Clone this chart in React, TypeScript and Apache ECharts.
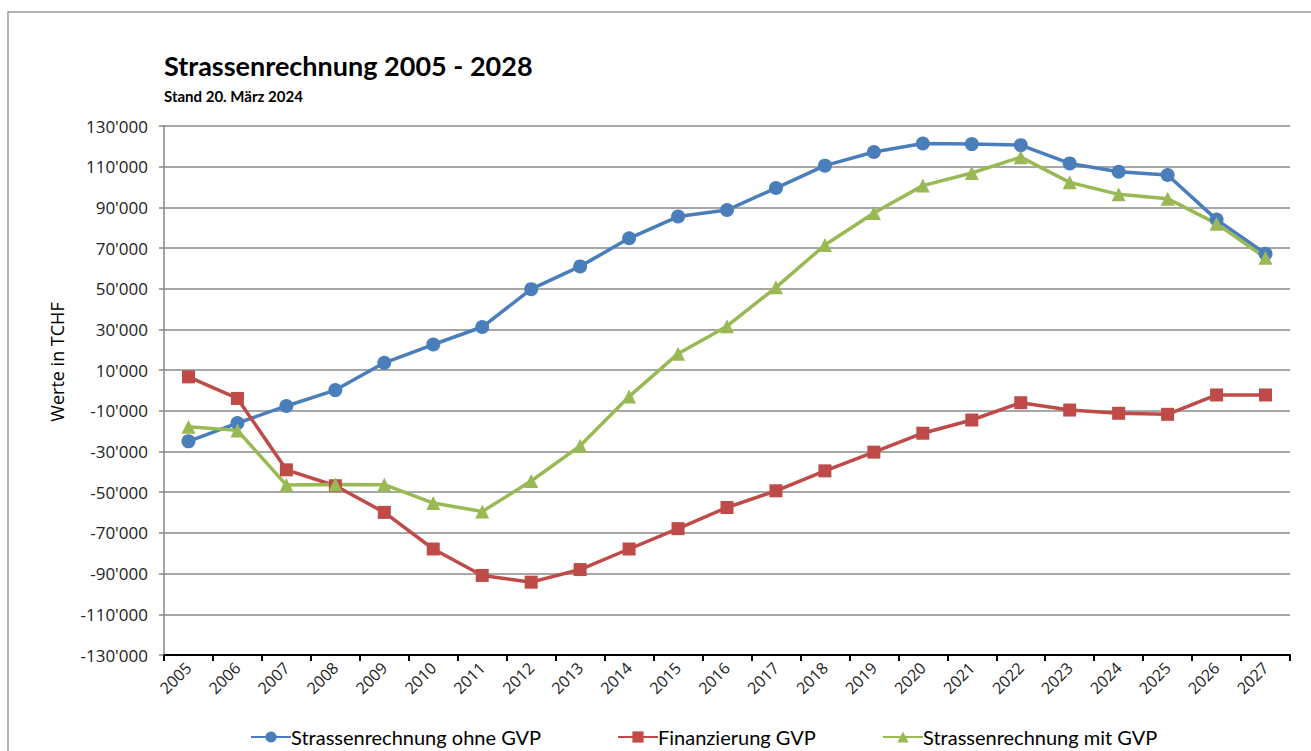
import React, { useEffect, useRef } from "react";
import * as echarts from "echarts";

const years = ["2005","2006","2007","2008","2009","2010","2011","2012","2013","2014","2015","2016","2017","2018","2019","2020","2021","2022","2023","2024","2025","2026","2027"];

const ohneGVP = [-25000,-16000,-7600,200,13600,22600,31200,49800,61000,74800,85500,88700,99500,110500,117200,121400,121100,120600,111600,107500,105900,84000,67200];
const finanzierungGVP = [6700,-3900,-39000,-46800,-59900,-77900,-90900,-94200,-88000,-77900,-67900,-57500,-49300,-39500,-30300,-21000,-14500,-6000,-9600,-11200,-11700,-2200,-2200];
const mitGVP = [-17800,-19600,-46500,-46200,-46300,-55300,-59500,-44500,-27200,-3000,18100,31600,50700,71500,87200,100700,106900,114700,102300,96400,94300,82000,65200];

const seriesNames = ["Strassenrechnung ohne GVP", "Finanzierung GVP", "Strassenrechnung mit GVP"];
const colors = ["#4A7EBB", "#BE4B48", "#98B954"];

const title = "Strassenrechnung 2005 - 2028";
const subtitle = "Stand 20. März 2024";
const yAxisName = "Werte in TCHF";

const FONT = "'Open Sans', Lato, sans-serif";
const TFONT = "Lato, 'Open Sans', sans-serif";

function fmt(v: number) {
  const s = Math.abs(v).toString();
  const out = s.length > 3 ? s.slice(0, s.length - 3) + "'" + s.slice(s.length - 3) : s;
  return (v < 0 ? "-" : "") + out;
}

export default function App() {
  const ref = useRef<HTMLDivElement>(null);
  useEffect(() => {
    if (!ref.current) return;
    const chart = echarts.init(ref.current, null, { renderer: "svg" });
    const symbols = ["circle", "rect", "triangle"];
    const sizes = [14, 13, 14];
    const datas = [ohneGVP, finanzierungGVP, mitGVP];
    const legendLefts = [245, 612, 877];
    chart.setOption({
      animation: false,
      backgroundColor: "#ffffff",
      title: [
        {
          text: title,
          left: 159,
          top: 47,
          textStyle: { fontFamily: TFONT, fontWeight: "bold", fontSize: 27, color: "#000" },
        },
        {
          text: subtitle,
          left: 159,
          top: 83,
          textStyle: { fontFamily: TFONT, fontWeight: "bold", fontSize: 15, color: "#000" },
        },
      ],
      legend: seriesNames.map((n, i) => ({
        data: [n],
        left: legendLefts[i],
        top: 722,
        itemWidth: 40,
        itemHeight: 14,
        itemGap: 2,
        textStyle: { fontFamily: TFONT, fontSize: 20, color: "#000", padding: [0, 0, 0, -5] },
      })),
      grid: { left: 164, right: 21, top: 126, bottom: 96, containLabel: false },
      xAxis: {
        type: "category",
        data: years,
        boundaryGap: true,
        axisLine: { onZero: false, lineStyle: { color: "#000", width: 2 } },
        axisTick: { show: true, length: 6, lineStyle: { color: "#000", width: 2 } },
        axisLabel: {
          show: true,
          rotate: 45,
          margin: 10,
          interval: 0,
          hideOverlap: false,
          fontFamily: FONT,
          fontSize: 16,
          fontWeight: "normal",
          color: "#222",
        },
        splitLine: { show: false },
      },
      yAxis: {
        type: "value",
        min: -130000,
        max: 130000,
        interval: 20000,
        axisLine: { show: true, lineStyle: { color: "#868686", width: 1.5 } },
        axisTick: { show: true, length: 5, lineStyle: { color: "#868686", width: 1.5 } },
        axisLabel: { formatter: (v: number) => fmt(v), margin: 16, fontFamily: FONT, fontSize: 17, color: "#222" },
        splitLine: { show: true, lineStyle: { color: "#8a8a8a", width: 1.5 } },
      },
      graphic: [
        {
          type: "rect",
          shape: { x: 8, y: 12, width: 1330, height: 760 },
          style: { fill: "none", stroke: "#9a9a9a", lineWidth: 1.5 },
          silent: true,
        },
        {
          type: "text",
          x: 57,
          y: 362,
          rotation: Math.PI / 2,
          style: {
            text: yAxisName,
            fontFamily: FONT,
            fontSize: 18,
            fill: "#000",
            textAlign: "center",
            textVerticalAlign: "middle",
          },
        },
      ],
      series: seriesNames.map((n, i) => ({
        name: n,
        type: "line",
        data: datas[i],
        symbol: symbols[i],
        symbolSize: sizes[i],
        showSymbol: true,
        color: colors[i],
        lineStyle: { width: 3.5, color: colors[i] },
        itemStyle: { color: colors[i] },
      })),
    });
    return () => chart.dispose();
  }, []);
  return (
    <div
      ref={ref}
      style={{ position: "fixed", left: 0, top: 0, width: 1311, height: 751, background: "#fff" }}
    />
  );
}
